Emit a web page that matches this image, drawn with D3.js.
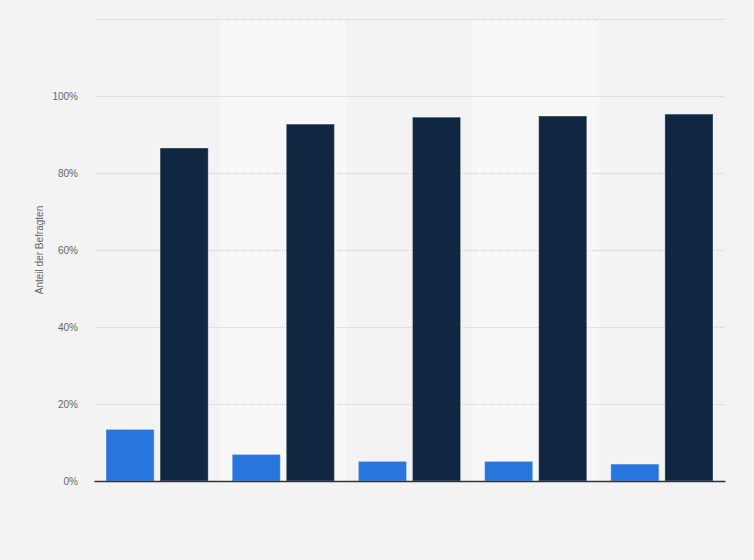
<!DOCTYPE html>
<html>
<head>
<meta charset="utf-8">
<script src="https://cdn.jsdelivr.net/npm/d3@7"></script>
<style>
  body { margin: 0; background: #f3f3f3; }
  svg { display: block; font-family: "Liberation Sans", Arial, sans-serif; }
</style>
</head>
<body>
<div id="chart"></div>
<script>
var categories = ["Kategorie 1", "Kategorie 2", "Kategorie 3", "Kategorie 4", "Kategorie 5"];
var seriesNames = ["Nein", "Ja"];
var nein = [13.4, 6.9, 5.1, 5.1, 4.4];
var ja = [86.5, 92.7, 94.5, 94.8, 95.3];
var yTicks = [0, 20, 40, 60, 80, 100, 120];
var colors = ["#2876dd", "#0f2740"];

var width = 754;
var height = 560;
var margin = {top: 19, right: 29, bottom: 79, left: 94};

var svg = d3.select('#chart')
            .append('svg')
            .attr('width', width)
            .attr('height', height)
            .style('background', '#f3f3f3');

var x0 = d3.scaleBand()
           .domain(categories)
           .range([margin.left, width - margin.right])
           .padding(0);

var x1 = d3.scaleBand()
           .domain(seriesNames)
           .range([12, x0.bandwidth() - 12])
           .paddingInner(0.11);

var y = d3.scaleLinear()
          .domain([0, 120])
          .range([height - margin.bottom, margin.top]);

// alternating column backgrounds
svg.selectAll('.band')
   .data(categories.filter(function(d, i){ return i % 2 == 1 }))
   .enter()
   .append('rect')
   .attr('x', function(d){ return x0(d) })
   .attr('y', y(120))
   .attr('width', x0.bandwidth())
   .attr('height', y(0) - y(120))
   .attr('fill', '#f7f7f7');

// gridlines + tick labels
var yAxis = d3.axisLeft(y)
              .tickValues(yTicks)
              .tickSize(-(width - margin.left - margin.right))
              .tickPadding(16)
              .tickFormat(function(d){ return d == 120 ? '' : d + '%' });

var gy = svg.append('g')
            .attr('transform', 'translate(' + margin.left + ',0)')
            .call(yAxis);
gy.select('.domain').remove();
gy.selectAll('.tick line')
  .attr('stroke', '#cfcfcf')
  .attr('stroke-dasharray', '1,1');
gy.selectAll('.tick text')
  .attr('fill', '#666')
  .attr('font-size', '10px');

// bars
var rows = categories.map(function(c, i){
  return {cat: c, values: [nein[i], ja[i]]};
});

var groups = svg.selectAll('.group')
                .data(rows)
                .enter()
                .append('g')
                .attr('transform', function(d){ return 'translate(' + x0(d.cat) + ',0)' });

groups.selectAll('rect')
      .data(function(d){ return d.values.map(function(v, j){ return {s: seriesNames[j], v: v, j: j} }) })
      .enter()
      .append('rect')
      .attr('x', function(d){ return x1(d.s) })
      .attr('y', function(d){ return y(d.v) })
      .attr('width', x1.bandwidth())
      .attr('height', function(d){ return y(0) - y(d.v) })
      .attr('fill', function(d){ return colors[d.j] })
      .attr('stroke', 'rgba(255,255,255,0.35)')
      .attr('stroke-width', 1);

// x axis line
var xAxis = d3.axisBottom(x0).tickSize(0).tickFormat('');
var gx = svg.append('g')
            .attr('transform', 'translate(0,' + y(0) + ')')
            .call(xAxis);
gx.select('.domain')
  .attr('stroke', '#333')
  .attr('stroke-width', 1.5);

// y axis title
svg.append('text')
   .attr('transform', 'translate(43,' + y(60) + ') rotate(-90)')
   .attr('text-anchor', 'middle')
   .attr('fill', '#666')
   .attr('font-size', '10px')
   .text('Anteil der Befragten');
</script>
</body>
</html>
